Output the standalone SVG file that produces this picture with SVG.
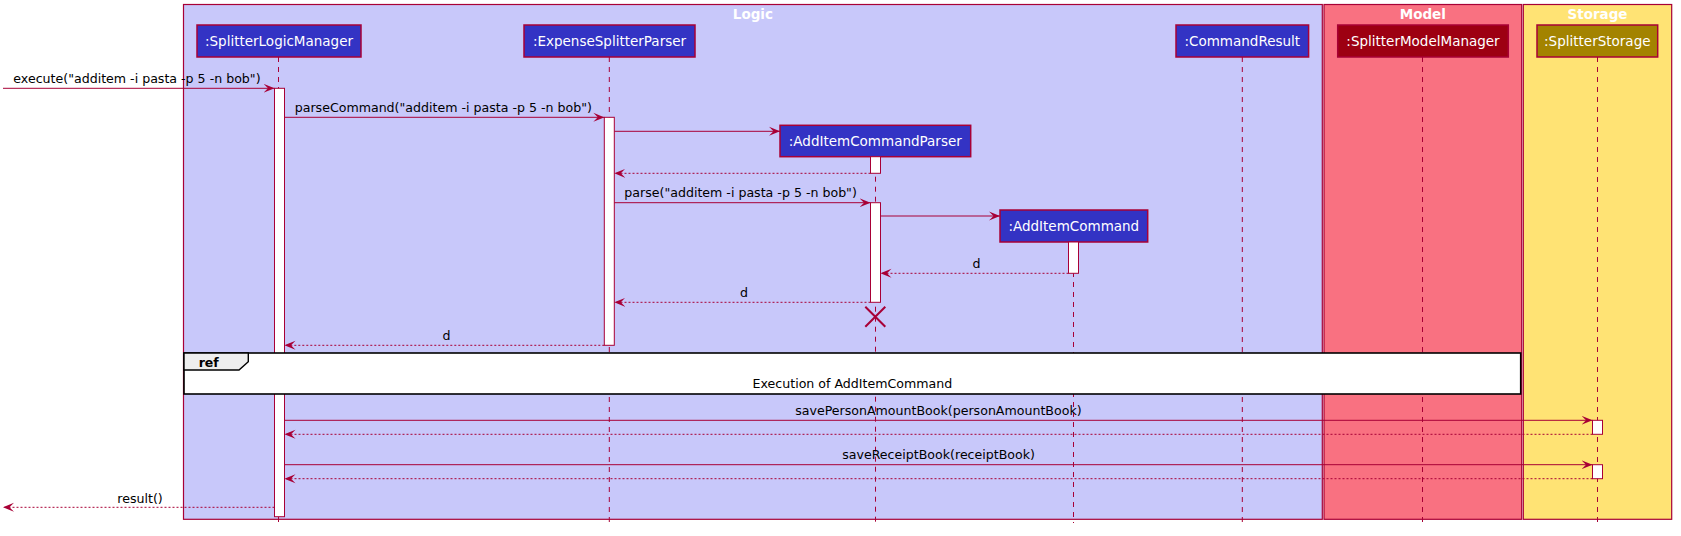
<svg xmlns="http://www.w3.org/2000/svg" width="1681" height="536" viewBox="0 0 1681 536">
<style>
.frame{stroke:#A80036;stroke-width:1.2}
.ftitle{font-family:"DejaVu Sans",sans-serif;font-weight:bold;font-size:13.5px;fill:#FFFFFF;text-anchor:middle}
.pbox{stroke:#A80036;stroke-width:1.5}
.ptext{font-family:"DejaVu Sans",sans-serif;font-size:13.5px;fill:#FFFFFF;text-anchor:middle}
.life{stroke:#A80036;stroke-width:1;stroke-dasharray:5,5;fill:none}
.act{fill:#FFFFFF;stroke:#A80036;stroke-width:1}
.msg{stroke:#A80036;stroke-width:1;fill:none;marker-end:url(#ah)}
.ret{stroke:#A80036;stroke-width:1;stroke-dasharray:2,2;fill:none;marker-end:url(#ah)}
.lbl{font-family:"DejaVu Sans",sans-serif;font-size:12.6px;fill:#000000}
.mid{text-anchor:middle}
</style>
<defs>
<marker id="ah" viewBox="0 0 11 10" refX="11" refY="5" markerWidth="11" markerHeight="10" orient="auto" markerUnits="userSpaceOnUse">
<path d="M0,0.5 L11,5 L0,9.5 L4.5,5 Z" fill="#A80036"/>
</marker>
</defs>
<rect x="0" y="0" width="1681" height="536" fill="#FFFFFF"/>

<g id="frame-logic">
<rect class="frame" x="183.5" y="4.5" width="1138.8" height="514.8" fill="#C8C8FA"/>
<text class="ftitle" x="752.9" y="19">Logic</text>
</g>
<g id="frame-model">
<rect class="frame" x="1324" y="4.5" width="197.7" height="514.8" fill="#F97181"/>
<text class="ftitle" x="1422.8" y="19">Model</text>
</g>
<g id="frame-storage">
<rect class="frame" x="1523.3" y="4.5" width="148.4" height="514.8" fill="#FFE374"/>
<text class="ftitle" x="1597.5" y="19">Storage</text>
</g>

<g id="p-splitterlogicmanager">
<line class="life" x1="278.5" y1="57" x2="278.5" y2="523"/>
<rect class="pbox" x="197" y="25" width="164" height="32" fill="#3333C4"/>
<text class="ptext" x="279" y="45.8">:SplitterLogicManager</text>
<rect class="act" x="274.5" y="88.3" width="10" height="428.4"/>
</g>
<g id="p-expensesplitterparser">
<line class="life" x1="609.3" y1="57" x2="609.3" y2="523"/>
<rect class="pbox" x="524" y="25" width="171" height="32" fill="#3333C4"/>
<text class="ptext" x="609.5" y="45.8">:ExpenseSplitterParser</text>
<rect class="act" x="604.3" y="117.3" width="10" height="228"/>
</g>
<g id="p-additemcommandparser">
<line class="life" x1="875.5" y1="156.7" x2="875.5" y2="523"/>
<rect class="pbox" x="780" y="125.3" width="190.7" height="31.4" fill="#3333C4"/>
<text class="ptext" x="875.3" y="145.8">:AddItemCommandParser</text>
<rect class="act" x="870.5" y="156.7" width="10" height="16.6"/>
<rect class="act" x="870.5" y="202.7" width="10" height="99.6"/>
<path d="M865.3,306.7 L885.3,326.7 M885.3,306.7 L865.3,326.7" stroke="#A80036" stroke-width="2" fill="none"/>
</g>
<g id="p-additemcommand">
<line class="life" x1="1073.5" y1="242" x2="1073.5" y2="523"/>
<rect class="pbox" x="1000" y="210" width="147.7" height="32" fill="#3333C4"/>
<text class="ptext" x="1073.8" y="230.6">:AddItemCommand</text>
<rect class="act" x="1068.5" y="242" width="10" height="31.3"/>
</g>
<g id="p-commandresult">
<line class="life" x1="1242.3" y1="57" x2="1242.3" y2="523"/>
<rect class="pbox" x="1176" y="25" width="132.6" height="32" fill="#3333C4"/>
<text class="ptext" x="1242.3" y="45.8">:CommandResult</text>
</g>
<g id="p-splittermodelmanager">
<line class="life" x1="1422.5" y1="57" x2="1422.5" y2="523"/>
<rect class="pbox" x="1337.7" y="25" width="170.6" height="32" fill="#9D0012"/>
<text class="ptext" x="1423" y="45.8">:SplitterModelManager</text>
</g>
<g id="p-splitterstorage">
<line class="life" x1="1597.5" y1="57" x2="1597.5" y2="523"/>
<rect class="pbox" x="1537" y="25" width="120.7" height="32" fill="#A38300"/>
<text class="ptext" x="1597.3" y="45.8">:SplitterStorage</text>
<rect class="act" x="1592.5" y="420.3" width="10" height="14"/>
<rect class="act" x="1592.5" y="464.7" width="10" height="14"/>
</g>

<g id="ref-execution">
<rect x="184" y="353" width="1336.7" height="41" fill="#FFFFFF" stroke="#000000" stroke-width="1.6"/>
<path d="M184,353 L248.3,353 L248.3,361.7 L239,370 L184,370 Z" fill="#EEEEEE" stroke="#000000" stroke-width="1.4"/>
<text x="198.7" y="367.3" font-family="DejaVu Sans, sans-serif" font-weight="bold" font-size="12.5" fill="#000000">ref</text>
<text class="lbl mid" x="852.4" y="387.6">Execution of AddItemCommand</text>
</g>

<g id="connectors">
<line class="msg" x1="3" y1="88.3" x2="274.5" y2="88.3"/>
<text class="lbl" x="13.3" y="83">execute("additem -i pasta -p 5 -n bob")</text>

<line class="msg" x1="284.5" y1="117.3" x2="604.3" y2="117.3"/>
<text class="lbl" x="294.7" y="112">parseCommand("additem -i pasta -p 5 -n bob")</text>

<line class="msg" x1="614.3" y1="131.3" x2="780" y2="131.3"/>

<line class="ret" x1="870.5" y1="173.3" x2="614.3" y2="173.3"/>

<line class="msg" x1="614.3" y1="202.7" x2="870.5" y2="202.7"/>
<text class="lbl" x="624.3" y="197.4">parse("additem -i pasta -p 5 -n bob")</text>

<line class="msg" x1="880.5" y1="216" x2="1000" y2="216"/>

<line class="ret" x1="1068.5" y1="273.3" x2="880.5" y2="273.3"/>
<text class="lbl mid" x="976.5" y="268">d</text>

<line class="ret" x1="870.5" y1="302.3" x2="614.3" y2="302.3"/>
<text class="lbl mid" x="744" y="297">d</text>

<line class="ret" x1="604.3" y1="345.3" x2="284.5" y2="345.3"/>
<text class="lbl mid" x="446.5" y="340">d</text>

<line class="msg" x1="284.5" y1="420.3" x2="1592.5" y2="420.3"/>
<text class="lbl mid" x="938.4" y="415">savePersonAmountBook(personAmountBook)</text>
<line class="ret" x1="1592.5" y1="434.3" x2="284.5" y2="434.3"/>

<line class="msg" x1="284.5" y1="464.7" x2="1592.5" y2="464.7"/>
<text class="lbl mid" x="938.6" y="459.4">saveReceiptBook(receiptBook)</text>
<line class="ret" x1="1592.5" y1="478.7" x2="284.5" y2="478.7"/>

<line class="ret" x1="274.5" y1="507.3" x2="3" y2="507.3"/>
<text class="lbl" x="117.3" y="502.5">result()</text>
</g>
</svg>
